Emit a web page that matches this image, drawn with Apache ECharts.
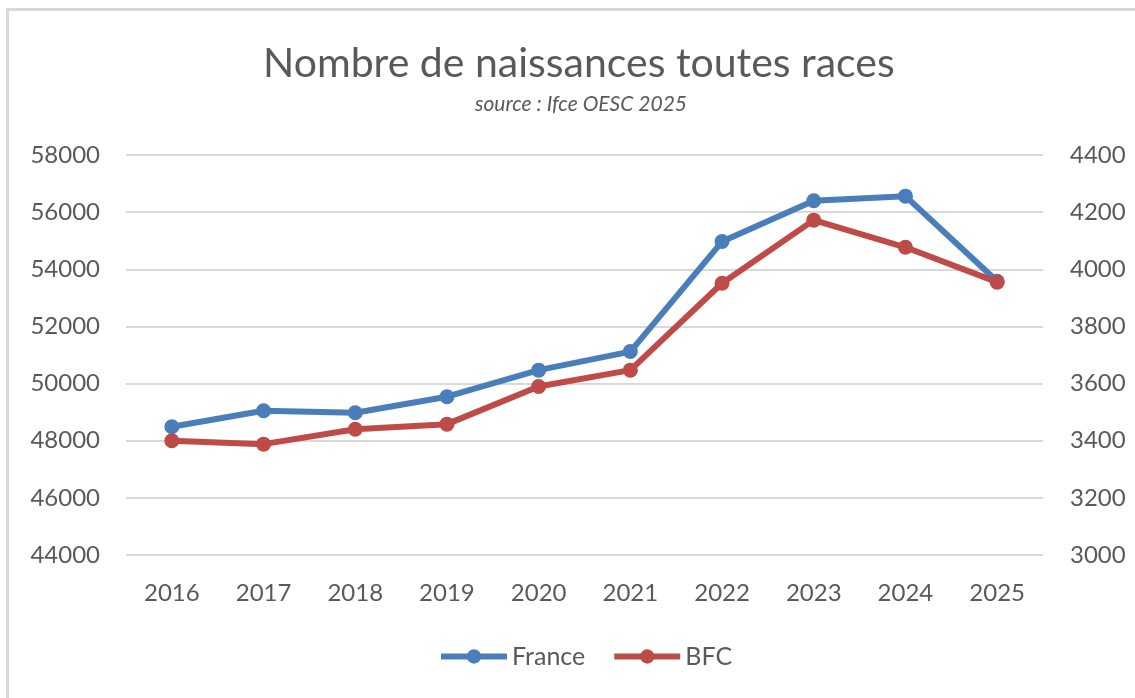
<!DOCTYPE html>
<html>
<head>
<meta charset="utf-8">
<script src="https://cdn.jsdelivr.net/npm/echarts@6/dist/echarts.min.js"></script>
<style>
  html, body { margin: 0; padding: 0; background: #fff; }
  #frame {
    position: absolute; left: 6px; top: 8px; right: 0; bottom: 0;
    border-left: 3px solid #d9d9d9; border-top: 3px solid #d9d9d9;
  }
  #chart { position: absolute; left: 0; top: 0; width: 1135px; height: 698px; }
</style>
</head>
<body>
<div id="frame"></div>
<div id="chart"></div>
<script>
// données
var years = ['2016', '2017', '2018', '2019', '2020', '2021', '2022', '2023', '2024', '2025']
var france = [48490, 49050, 48980, 49540, 50470, 51120, 54970, 56400, 56560, 53580]
var bfc = [3400, 3388, 3440, 3458, 3590, 3647, 3951, 4172, 4077, 3955]

var txt = '#595959'
var font = 'Lato'

// pas de séparateur de milliers, comme dans Excel
function plain (v) { return String(v) }

var chart = echarts.init(document.getElementById('chart'))
var option = {
  backgroundColor: 'transparent',
  title: [
    {
      text: 'Nombre de naissances toutes races',
      left: 258,
      top: 38,
      textStyle: { color: txt, fontFamily: font, fontWeight: 'normal', fontSize: 41 }
    },
    {
      text: 'source : Ifce OESC 2025',
      left: 470,
      top: 89,
      textStyle: { color: txt, fontFamily: font, fontStyle: 'italic', fontWeight: 'normal', fontSize: 21 }
    }
  ],
  legend: {
    bottom: 24,
    left: 433,
    itemWidth: 66,
    itemHeight: 18,
    itemGap: 26,
    lineStyle: { width: 6 },
    textStyle: { color: txt, fontFamily: font, fontSize: 25 },
    data: ['France', 'BFC']
  },
  grid: { left: 126, right: 92, top: 155, bottom: 143 },
  xAxis: {
    type: 'category',
    data: years,
    axisLine: { show: false },
    axisTick: { show: false },
    axisLabel: { color: txt, fontFamily: font, fontSize: 24, margin: 26 }
  },
  yAxis: [
    {
      type: 'value',
      min: 44000,
      max: 58000,
      interval: 2000,
      axisLine: { show: false },
      axisTick: { show: false },
      axisLabel: { color: txt, fontFamily: font, fontSize: 24, margin: 26, formatter: plain },
      splitLine: { lineStyle: { color: '#d9d9d9', width: 2 } }
    },
    {
      type: 'value',
      min: 3000,
      max: 4400,
      interval: 200,
      axisLine: { show: false },
      axisTick: { show: false },
      axisLabel: { color: txt, fontFamily: font, fontSize: 24, margin: 27, formatter: plain },
      splitLine: { show: false }
    }
  ],
  series: [
    {
      name: 'France',
      type: 'line',
      data: france,
      yAxisIndex: 0,
      symbol: 'circle',
      symbolSize: 15,
      color: '#4a7ebb',
      lineStyle: { width: 6 }
    },
    {
      name: 'BFC',
      type: 'line',
      data: bfc,
      yAxisIndex: 1,
      symbol: 'circle',
      symbolSize: 15,
      color: '#be4b48',
      lineStyle: { width: 6 }
    }
  ]
}
chart.setOption(option)
</script>
</body>
</html>
